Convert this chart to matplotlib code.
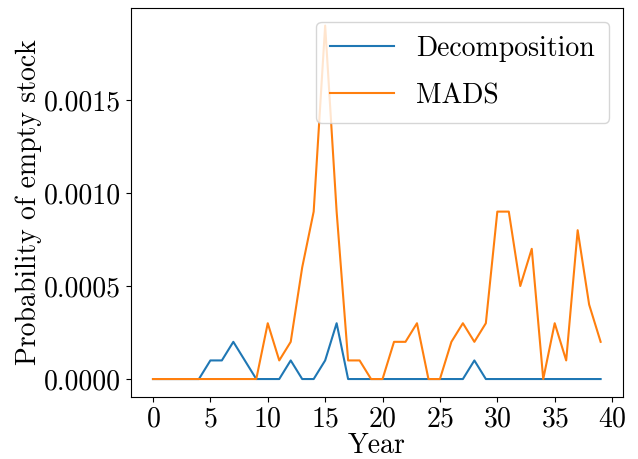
import matplotlib
matplotlib.use("Agg")
import matplotlib.pyplot as plt

# Probability of an empty stock per year, two solution methods
years = list(range(40))
decomposition = [0, 0, 0, 0, 0, 0.0001, 0.0001, 0.0002, 0.0001, 0,
                 0, 0, 0.0001, 0, 0, 0.0001, 0.0003, 0, 0, 0,
                 0, 0, 0, 0, 0, 0, 0, 0, 0.0001, 0,
                 0, 0, 0, 0, 0, 0, 0, 0, 0, 0]
mads = [0, 0, 0, 0, 0, 0, 0, 0, 0, 0,
        0.0003, 0.0001, 0.0002, 0.0006, 0.0009, 0.0019, 0.0009, 0.0001, 0.0001, 0,
        0, 0.0002, 0.0002, 0.0003, 0, 0, 0.0002, 0.0003, 0.0002, 0.0003,
        0.0009, 0.0009, 0.0005, 0.0007, 0, 0.0003, 0.0001, 0.0008, 0.0004, 0.0002]

plt.rcParams["font.family"] = ["cmr10", "DejaVu Serif"]
plt.rcParams["mathtext.fontset"] = "cm"
plt.rcParams["axes.formatter.use_mathtext"] = True
plt.rcParams["font.size"] = 20

fig, ax = plt.subplots(figsize=(6.38, 4.59), dpi=100)
fig.subplots_adjust(left=0.2047, right=0.9765, bottom=0.1357, top=0.9828)

ax.plot(years, decomposition, label="Decomposition")
ax.plot(years, mads, label="MADS")

ax.set_xticks(range(0, 41, 5))
ax.set_yticks([0, 0.0005, 0.0010, 0.0015])
ax.set_yticklabels(["0.0000", "0.0005", "0.0010", "0.0015"])
ax.set_xlabel("Year", labelpad=0)
ax.set_ylabel("Probability of empty stock", labelpad=1)
ax.legend(loc="upper right", handlelength=2.3, labelspacing=0.75,
          borderpad=0.5)

fig.savefig("out.png", dpi=100)
